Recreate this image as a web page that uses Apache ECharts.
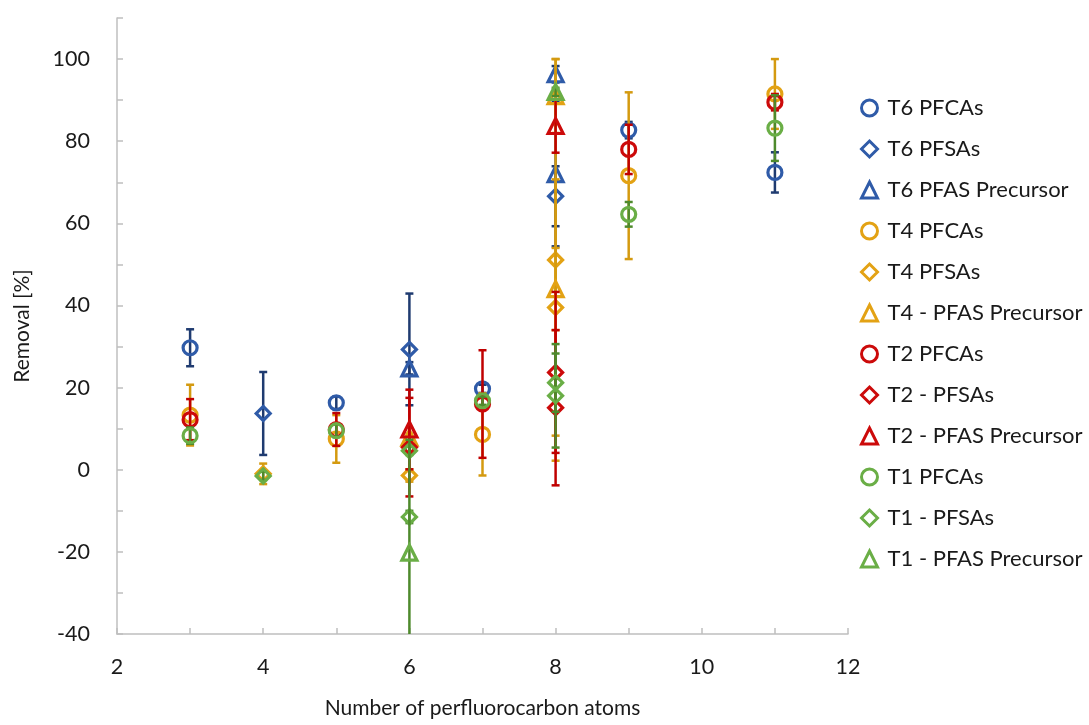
<!DOCTYPE html>
<html>
<head>
<meta charset="utf-8">
<script src="https://cdn.jsdelivr.net/npm/echarts@6/dist/echarts.min.js"></script>
<style>
  html, body { margin: 0; padding: 0; background: #fff; }
  #chart { width: 1089px; height: 725px; }
</style>
</head>
<body>
<div id="chart"></div>
<script>
// Each point: [perfluorocarbon atoms, removal %, error (±)]
const t6Pfcas = [[3, 29.7, 4.5], [5, 16.3, 1.5], [7, 19.7, 1], [9, 82.7, 2], [11, 72.4, 4.9]];
const t6Pfsas = [[4, 13.7, 10.1], [6, 29.3, 13.6], [8, 66.6, 7.3]];
const t6Precursor = [[6, 24.7, 1.5], [8, 96.3, 2], [8, 72.0, 17.6]];
const t4Pfcas = [[3, 13.3, 7.4], [5, 7.5, 5.8], [7, 8.6, 10], [9, 71.6, 20.3], [11, 91.5, 8.5]];
const t4Pfsas = [[4, -1.0, 2.5], [6, -1.4, 1.5], [8, 51.1, 48.9], [8, 39.5, 31.2]];
const t4Precursor = [[6, 7.8, 1], [8, 91.0, 9], [8, 44.0, 10]];
const t2Pfcas = [[3, 12.2, 5], [5, 9.8, 4], [7, 16.0, 13.1], [9, 78.0, 6], [11, 89.5, 2]];
const t2Pfsas = [[6, 5.5, 12], [8, 23.7, 19.6], [8, 15.1, 18.9]];
const t2Precursor = [[6, 9.8, 9.7], [8, 83.7, 6.5]];
const t1Pfcas = [[3, 8.3, 2], [5, 9.5, 1.5], [7, 16.8, 1], [9, 62.2, 3], [11, 83.2, 8]];
const t1Pfsas = [[4, -1.5, 1], [6, 4.6, 1], [6, -11.5, 1.5], [8, 21.2, 7.1], [8, 18.0, 12.6]];
const t1Precursor = [[6, -20.2, 27.5], [8, 92.0, 1]];

const xTicks = [2, 4, 6, 8, 10, 12];
const yTicks = [-40, -20, 0, 20, 40, 60, 80, 100];
const xRange = [2, 12];
const yRange = [-40, 110];

const palette = {
  blue:   { mark: '#2F5BA8', bar: '#1F3B70' },
  orange: { mark: '#E3A214', bar: '#D49A10' },
  red:    { mark: '#CC0A0A', bar: '#C00000' },
  green:  { mark: '#6AAE46', bar: '#4E8A2C' }
};

const groups = [
  { name: 'T6 PFCAs', data: t6Pfcas, c: palette.blue, sym: 'circle' },
  { name: 'T6 PFSAs', data: t6Pfsas, c: palette.blue, sym: 'diamond' },
  { name: 'T6 PFAS Precursor', data: t6Precursor, c: palette.blue, sym: 'triangle' },
  { name: 'T4 PFCAs', data: t4Pfcas, c: palette.orange, sym: 'circle' },
  { name: 'T4 PFSAs', data: t4Pfsas, c: palette.orange, sym: 'diamond' },
  { name: 'T4 - PFAS Precursor', data: t4Precursor, c: palette.orange, sym: 'triangle' },
  { name: 'T2 PFCAs', data: t2Pfcas, c: palette.red, sym: 'circle' },
  { name: 'T2 - PFSAs', data: t2Pfsas, c: palette.red, sym: 'diamond' },
  { name: 'T2 - PFAS Precursor', data: t2Precursor, c: palette.red, sym: 'triangle' },
  { name: 'T1 PFCAs', data: t1Pfcas, c: palette.green, sym: 'circle' },
  { name: 'T1 - PFSAs', data: t1Pfsas, c: palette.green, sym: 'diamond' },
  { name: 'T1 - PFAS Precursor', data: t1Precursor, c: palette.green, sym: 'triangle' }
];

const FONT = 'Lato';
const TEXT = '#1a1a1a';

// Vertical error bar with caps, cut off at the value-axis limits
function errorBarRenderer(color) {
  return function (params, api) {
    const x = api.value(0);
    const y = api.value(1);
    const e = api.value(2);
    const hiV = Math.min(y + e, yRange[1]);
    const loV = Math.max(y - e, yRange[0]);
    const hi = api.coord([x, hiV]);
    const lo = api.coord([x, loV]);
    const half = 4;
    const style = { stroke: color, lineWidth: 2.5 };
    const children = [
      { type: 'line', shape: { x1: hi[0], y1: hi[1], x2: lo[0], y2: lo[1] }, style: style }
    ];
    if (y + e <= yRange[1]) {
      children.push({ type: 'line', shape: { x1: hi[0] - half, y1: hi[1], x2: hi[0] + half, y2: hi[1] }, style: style });
    }
    if (y - e >= yRange[0]) {
      children.push({ type: 'line', shape: { x1: lo[0] - half, y1: lo[1], x2: lo[0] + half, y2: lo[1] }, style: style });
    }
    return { type: 'group', children: children };
  };
}

const symbolSizes = { circle: 14, diamond: 14, triangle: 15 };

const series = [];
groups.forEach(function (g, i) {
  series.push({
    type: 'custom',
    name: g.name,
    data: g.data,
    renderItem: errorBarRenderer(g.c.bar),
    encode: { x: 0, y: 1 },
    z: 2 + i * 2,
    silent: true
  });
  series.push({
    type: 'scatter',
    name: g.name,
    data: g.data.map(function (d) { return [d[0], d[1]]; }),
    symbol: g.sym,
    symbolSize: symbolSizes[g.sym],
    itemStyle: { color: 'rgba(255,255,255,0)', borderColor: g.c.mark, borderWidth: 3.2, opacity: 1 },
    z: 3 + i * 2
  });
});

const chart = echarts.init(document.getElementById('chart'), null, { renderer: 'canvas' });
chart.setOption({
  animation: false,
  backgroundColor: '#ffffff',
  grid: { left: 117, right: 241, top: 18, bottom: 91, containLabel: false, outerBoundsMode: 'none' },
  legend: {
    orient: 'vertical',
    left: 860,
    top: 97,
    padding: 0,
    itemWidth: 16,
    itemHeight: 16,
    itemGap: 19,
    data: groups.map(function (g) {
      return {
        name: g.name,
        icon: g.sym,
        itemStyle: { color: 'rgba(255,255,255,0)', borderColor: g.c.mark, borderWidth: 3 }
      };
    }),
    textStyle: { fontFamily: FONT, fontSize: 22, lineHeight: 22, color: TEXT, padding: [0, 0, 0, 5] }
  },
  xAxis: {
    type: 'value',
    min: xRange[0],
    max: xRange[1],
    interval: 1,
    name: 'Number of perfluorocarbon atoms',
    nameLocation: 'middle',
    nameGap: 64,
    nameTextStyle: { fontFamily: FONT, fontSize: 21, color: TEXT },
    axisLine: { show: true, onZero: false, lineStyle: { color: '#BFBFBF', width: 1.5 } },
    axisTick: { show: true, inside: true, length: 6, lineStyle: { color: '#BFBFBF', width: 1.5 } },
    axisLabel: {
      fontFamily: FONT, fontSize: 21.5, color: TEXT, margin: 22,
      formatter: function (v) { return xTicks.indexOf(v) >= 0 ? String(v) : ''; }
    },
    splitLine: { show: false }
  },
  yAxis: {
    type: 'value',
    min: yRange[0],
    max: yRange[1],
    interval: 10,
    name: 'Removal [%]',
    nameLocation: 'middle',
    nameRotate: 90,
    nameGap: 84,
    nameTextStyle: { fontFamily: FONT, fontSize: 21, color: TEXT },
    axisLine: { show: true, onZero: false, lineStyle: { color: '#BFBFBF', width: 1.5 } },
    axisTick: { show: true, inside: true, length: 6, lineStyle: { color: '#BFBFBF', width: 1.5 } },
    axisLabel: {
      fontFamily: FONT, fontSize: 21.5, color: TEXT, margin: 27,
      formatter: function (v) { return yTicks.indexOf(v) >= 0 ? String(v) : ''; }
    },
    splitLine: { show: false }
  },
  series: series
});
</script>
</body>
</html>
